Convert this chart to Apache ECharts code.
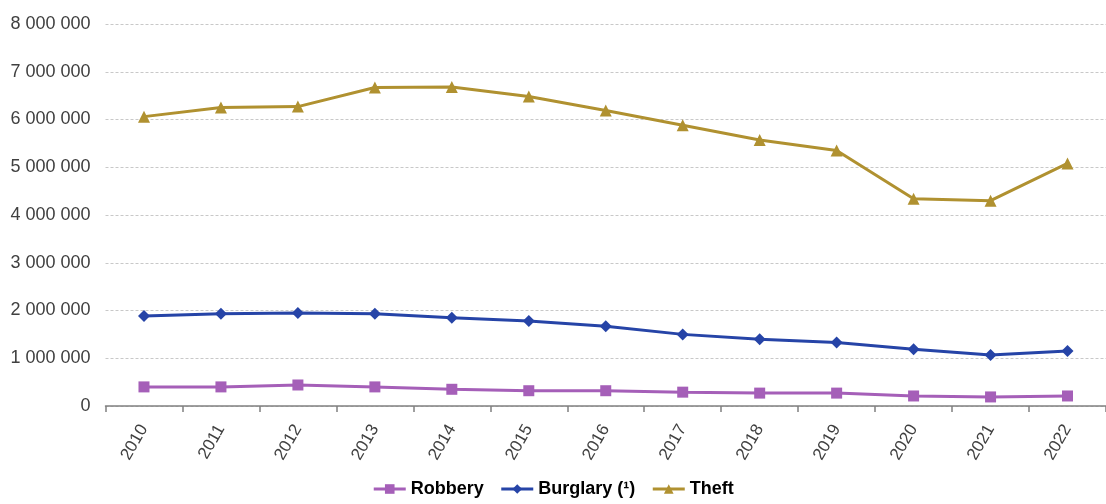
<!DOCTYPE html>
<html>
<head>
<meta charset="utf-8">
<script src="https://cdn.jsdelivr.net/npm/echarts@6/dist/echarts.min.js"></script>
<style>
  html, body { margin: 0; padding: 0; background: #fff; }
  #chart { width: 1106px; height: 504px; }
</style>
</head>
<body>
<div id="chart"></div>
<script>
// Recorded offences by type, 2010-2022
const years = ['2010','2011','2012','2013','2014','2015','2016','2017','2018','2019','2020','2021','2022'];
const robbery  = [400000, 400000, 440000, 400000, 350000, 320000, 320000, 290000, 270000, 270000, 210000, 190000, 210000];
const burglary = [1885000, 1930000, 1950000, 1930000, 1850000, 1780000, 1670000, 1500000, 1400000, 1330000, 1190000, 1070000, 1150000];
const theft    = [6060000, 6250000, 6270000, 6670000, 6680000, 6480000, 6190000, 5880000, 5570000, 5350000, 4340000, 4300000, 5080000];
const yTicks = { min: 0, max: 8000000, interval: 1000000 };

const colors = { robbery: '#A55FB8', burglary: '#2644A7', theft: '#B09130' };
const fontFamily = '"Liberation Sans", Arial, sans-serif';

// "1 000 000" style thousands separators
function fmt(v) {
  return String(v).replace(/\B(?=(\d{3})+(?!\d))/g, ' ');
}

function lineSeries(name, data, color, symbol, size) {
  return {
    name: name,
    type: 'line',
    data: data,
    symbol: symbol,
    symbolSize: size,
    lineStyle: { color: color, width: 3 },
    itemStyle: { color: color },
    emphasis: { disabled: true }
  };
}

const chart = echarts.init(document.getElementById('chart'), null, { renderer: 'canvas' });
chart.setOption({
  animation: false,
  textStyle: { fontFamily: fontFamily },
  grid: { left: 105.5, right: 0, top: 24, bottom: 98, containLabel: false },
  legend: {
    bottom: 1,
    left: 'center',
    itemWidth: 32,
    itemHeight: 12,
    itemGap: 16,
    lineStyle: { width: 3 },
    textStyle: { fontSize: 18, fontWeight: 'bold', color: '#000', fontFamily: fontFamily },
    data: ['Robbery', 'Burglary (¹)', 'Theft']
  },
  xAxis: {
    type: 'category',
    data: years,
    boundaryGap: true,
    axisLine: { lineStyle: { color: '#808080', width: 1.5 } },
    axisTick: { show: true, length: 6, lineStyle: { color: '#808080', width: 1.5 } },
    axisLabel: { rotate: 60, margin: 20, fontSize: 17, color: '#404040', fontFamily: fontFamily },
    splitLine: { show: false }
  },
  yAxis: {
    type: 'value',
    min: yTicks.min,
    max: yTicks.max,
    interval: yTicks.interval,
    axisLine: { show: false },
    axisTick: { show: false },
    axisLabel: { margin: 15, fontSize: 18, color: '#404040', fontFamily: fontFamily, formatter: fmt },
    splitLine: { lineStyle: { color: '#c8c8c8', type: [3, 2], width: 1 } }
  },
  series: [
    lineSeries('Robbery', robbery, colors.robbery, 'rect', 11),
    lineSeries('Burglary (¹)', burglary, colors.burglary, 'diamond', 12),
    lineSeries('Theft', theft, colors.theft, 'triangle', 12)
  ]
});
</script>
</body>
</html>
